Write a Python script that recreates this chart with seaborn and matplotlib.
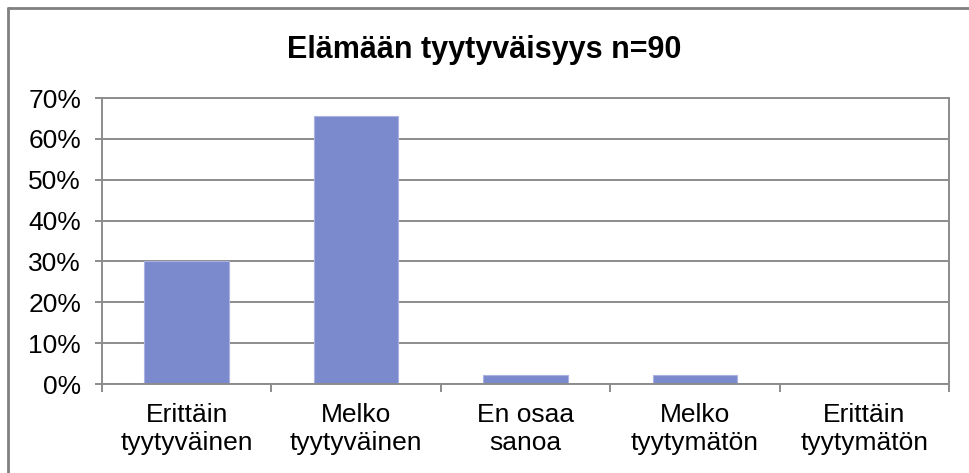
import matplotlib
matplotlib.use("Agg")
import matplotlib.pyplot as plt
import seaborn as sns
import pandas as pd
from matplotlib.lines import Line2D
from matplotlib.ticker import FuncFormatter, FixedLocator

# -----------------------------
# Data
# -----------------------------
categories = [
    "Erittäin\ntyytyväinen",
    "Melko\ntyytyväinen",
    "En osaa\nsanoa",
    "Melko\ntyytymätön",
    "Erittäin\ntyytymätön",
]
shares = [30.0, 65.6, 2.2, 2.2, 0.0]
y_ticks = [0, 10, 20, 30, 40, 50, 60, 70]
title = "Elämään tyytyväisyys n=90"

BAR_COLOR = "#7B89CD"
GRID_COLOR = "#8C8C8C"

sns.set_theme(style="white")
plt.rcParams["font.family"] = ["Liberation Sans", "DejaVu Sans"]

df = pd.DataFrame({"category": categories, "share": shares})

fig = plt.figure(figsize=(9.69, 4.73), dpi=100)
ax = fig.add_axes([102 / 969, 89 / 473, 847 / 969, 286 / 473])

sns.barplot(
    data=df,
    x="category",
    y="share",
    color=BAR_COLOR,
    saturation=1,
    width=0.5,
    edgecolor="#A9B2E0",
    linewidth=0.8,
    ax=ax,
)

ax.set_xlim(-0.5, len(categories) - 0.5)
ax.set_ylim(0, 70)

# gridlines
ax.yaxis.set_major_locator(FixedLocator(y_ticks))
ax.yaxis.set_major_formatter(FuncFormatter(lambda v, p: f"{int(v)}%"))
ax.grid(axis="y", color=GRID_COLOR, linewidth=1.4)
ax.set_axisbelow(True)

# x ticks between categories, labels centred
ax.set_xticks([i - 0.5 for i in range(len(categories) + 1)])
ax.set_xticklabels([])
ax.set_xticks(range(len(categories)), minor=True)
ax.set_xticklabels(categories, minor=True, fontsize=19, color="black",
                   linespacing=1.2)
ax.tick_params(axis="x", which="major", length=6, width=1.4,
               color=GRID_COLOR, direction="out", bottom=True)
ax.tick_params(axis="x", which="minor", length=0, pad=14)
ax.tick_params(axis="y", length=5, width=1.4, color=GRID_COLOR,
               direction="out", left=True, labelsize=19, labelcolor="black",
               pad=10)

for side in ["left", "right", "top", "bottom"]:
    ax.spines[side].set_color(GRID_COLOR)
    ax.spines[side].set_linewidth(1.4)

ax.set_xlabel("")
ax.set_ylabel("")

fig.text(0.5, 1 - 50 / 473, title, ha="center", va="center",
         fontsize=22, fontweight="bold", color="black")

# outer chart border (only left and top visible)
fig.add_artist(Line2D([7.5 / 969, 7.5 / 969], [0, 1 - 8.5 / 473],
                      transform=fig.transFigure, color="#808080", linewidth=2))
fig.add_artist(Line2D([7.5 / 969, 1], [1 - 8.5 / 473, 1 - 8.5 / 473],
                      transform=fig.transFigure, color="#808080", linewidth=2))

fig.savefig("out.png", dpi=100, facecolor="white")
